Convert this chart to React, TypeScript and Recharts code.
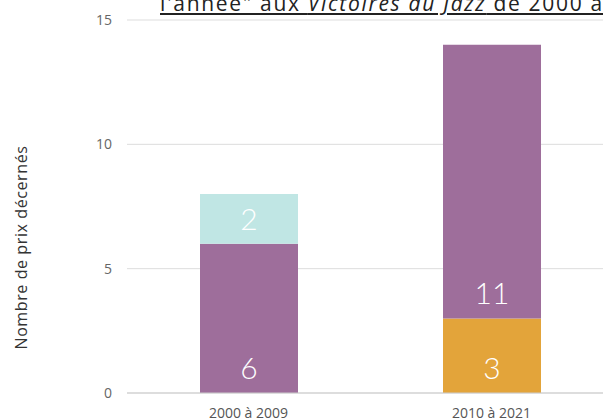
import React from 'react';
import { BarChart, Bar, XAxis, YAxis, CartesianGrid, LabelList, Label } from 'recharts';

const periods = ['2000 à 2009', '2010 à 2021'];
const orangeValues = [0, 3];
const purpleValues = [6, 11];
const tealValues = [2, 0];
const yTicks = [0, 5, 10, 15];

const data = periods.map((period, i) => ({
    period,
    orange: orangeValues[i],
    purple: purpleValues[i],
    teal: tealValues[i],
}));

const font = '"Open Sans", Lato, sans-serif';
const numFont = 'Lato, "Open Sans", sans-serif';
const hideZero = (v: any) => (v ? v : '');

const labelStyle = { fill: '#ffffff', fontSize: 30, fontFamily: numFont, fontWeight: 300 };

function YTitle(props: any) {
    const { viewBox } = props;
    const x = viewBox.x + 1;
    const y = viewBox.y + viewBox.height * 0.61;
    return (
        <text
            x={x}
            y={y}
            transform={`rotate(-90, ${x}, ${y})`}
            textAnchor="middle"
            dominantBaseline="central"
            fill="#333"
            fontSize={16}
            letterSpacing={0.6}
            fontFamily={font}
        >
            Nombre de prix décernés
        </text>
    );
}

export default function App() {
    return (
        <div style={{ position: 'fixed', left: 0, top: 0, width: 603, height: 420, overflow: 'hidden', background: '#fff' }}>
            <div
                style={{
                    position: 'absolute',
                    left: 160,
                    top: -8,
                    fontFamily: font,
                    fontSize: 21,
                    letterSpacing: 1.7,
                    lineHeight: '22px',
                    color: '#222',
                    textDecoration: 'underline',
                    whiteSpace: 'nowrap',
                }}
            >
                l'année" aux <i>Victoires du Jazz</i> de 2000 à 2021
            </div>
            <BarChart
                width={640}
                height={440}
                data={data}
                margin={{ top: 20, right: 27, bottom: 17, left: 20 }}
            >
                <CartesianGrid vertical={false} stroke="#dddddd" />
                <XAxis
                    dataKey="period"
                    axisLine={{ stroke: '#cccccc' }}
                    tickLine={false}
                    height={30}
                    tick={{ fill: '#555', fontSize: 14, fontFamily: font }}
                    tickMargin={9}
                />
                <YAxis
                    width={107}
                    domain={[0, 15]}
                    ticks={yTicks}
                    axisLine={false}
                    tickLine={false}
                    tickMargin={9}
                    tick={{ fill: '#666', fontSize: 14, fontFamily: font }}
                >
                    <Label content={<YTitle />} />
                </YAxis>
                <Bar dataKey="orange" stackId="a" fill="#e3a43a" barSize={98} isAnimationActive={false}>
                    <LabelList dataKey="orange" position="insideBottom" offset={14} formatter={hideZero} style={labelStyle} />
                </Bar>
                <Bar dataKey="purple" stackId="a" fill="#9e6e9b" barSize={98} isAnimationActive={false}>
                    <LabelList dataKey="purple" position="insideBottom" offset={14} formatter={hideZero} style={labelStyle} />
                </Bar>
                <Bar dataKey="teal" stackId="a" fill="#c0e6e4" barSize={98} isAnimationActive={false}>
                    <LabelList dataKey="teal" position="insideBottom" offset={14} formatter={hideZero} style={labelStyle} />
                </Bar>
            </BarChart>
        </div>
    );
}
